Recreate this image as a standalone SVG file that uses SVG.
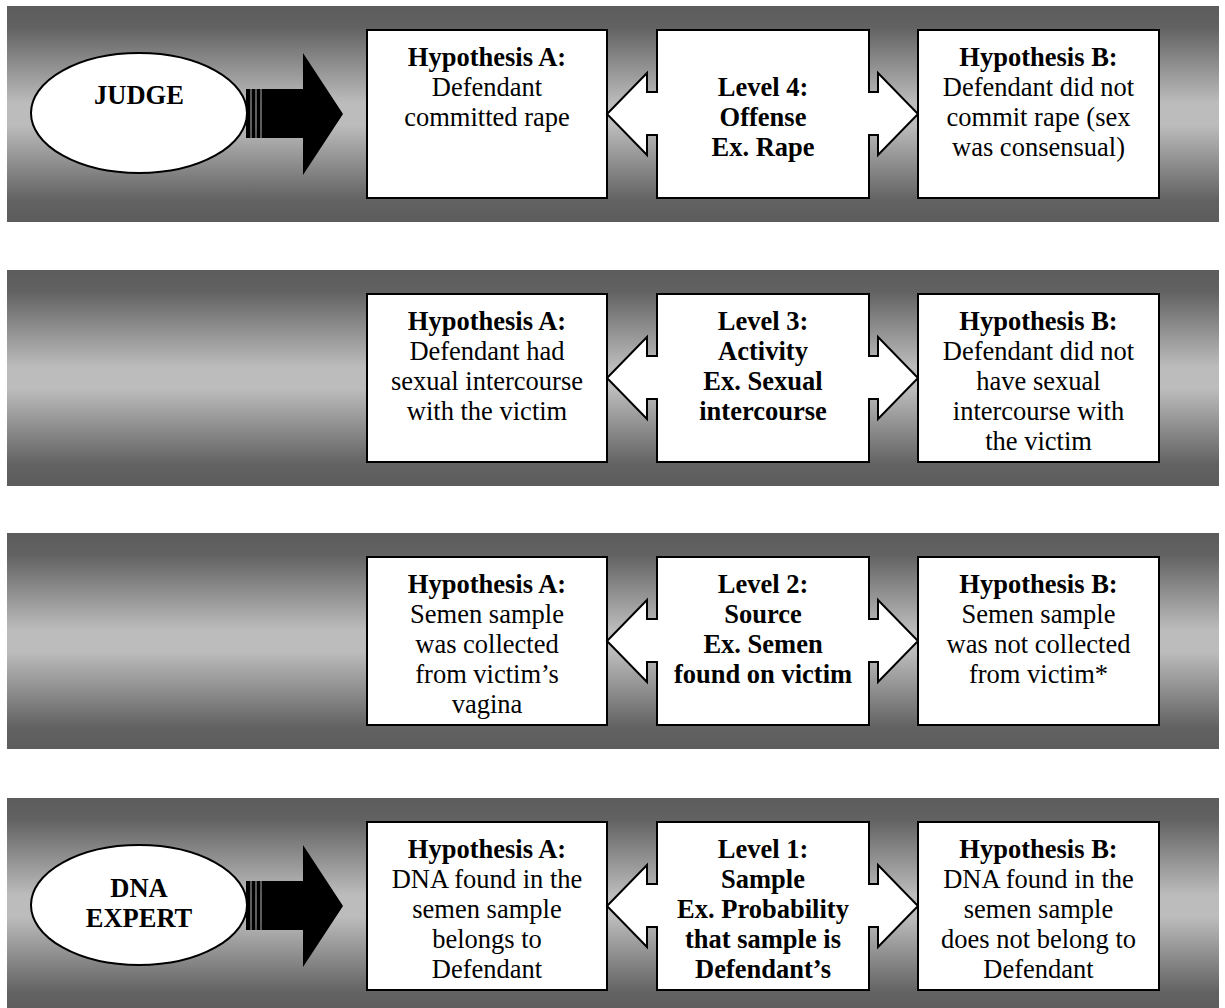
<svg xmlns="http://www.w3.org/2000/svg" width="1225" height="1008" viewBox="0 0 1225 1008">
<defs>
<linearGradient id="bandGrad" x1="0" y1="0" x2="0" y2="1">
<stop offset="0" stop-color="#5c5c5c"/>
<stop offset="0.1" stop-color="#626262"/>
<stop offset="0.45" stop-color="#bcbcbc"/>
<stop offset="0.55" stop-color="#bcbcbc"/>
<stop offset="0.9" stop-color="#626262"/>
<stop offset="1" stop-color="#5c5c5c"/>
</linearGradient>
<path id="levelShape" d="M657,24 H869 V86 H878 V67 L918,108 L878,149 V129 H869 V192 H657 V129 H647 V149 L607,108 L647,67 V86 H657 Z"/>
<g id="stripedArrow">
<rect x="246" y="83" width="4.5" height="49"/>
<rect x="251.5" y="83" width="4" height="49"/>
<rect x="256.5" y="83" width="4" height="49"/>
<path d="M261.5,83 H303 V47 L343,108 L303,169 V132 H261.5 Z"/>
</g>
</defs>
<style>
.band{fill:url(#bandGrad);}
.box{fill:#ffffff;stroke:#000000;stroke-width:2;}
.lvl{fill:#ffffff;stroke:#000000;stroke-width:2;stroke-linejoin:miter;}
.ell{fill:#ffffff;stroke:#000000;stroke-width:2;}
text{font-family:"Liberation Serif","Times New Roman",serif;font-size:26.5px;fill:#000000;text-anchor:middle;}
.b{font-weight:bold;}
</style>
<rect width="1225" height="1008" fill="#ffffff"/>

<!-- Bands -->
<rect class="band" x="7" y="6" width="1212" height="216"/>
<rect class="band" x="7" y="270" width="1212" height="216"/>
<rect class="band" x="7" y="533" width="1212" height="216"/>
<rect class="band" x="7" y="798" width="1212" height="216"/>

<!-- Connectors -->
<g id="connectors" fill="#000000">
<use href="#stripedArrow" transform="translate(0,6)"/>
<use href="#stripedArrow" transform="translate(0,798)"/>
</g>

<!-- Band 1 -->
<g id="judge">
<ellipse class="ell" cx="139" cy="113" rx="108" ry="60"/>
<text class="b" x="139" y="104">JUDGE</text>
</g>
<g id="l4-hypA">
<rect class="box" x="367" y="30" width="240" height="168"/>
<text x="487" y="66"><tspan class="b">Hypothesis A:</tspan><tspan x="487" dy="30">Defendant</tspan><tspan x="487" dy="30">committed rape</tspan></text>
</g>
<g id="level4" transform="translate(0,6)">
<use href="#levelShape" class="lvl"/>
<text class="b" x="763" y="90"><tspan x="763">Level 4:</tspan><tspan x="763" dy="30">Offense</tspan><tspan x="763" dy="30">Ex. Rape</tspan></text>
</g>
<g id="l4-hypB">
<rect class="box" x="918" y="30" width="241" height="168"/>
<text x="1038.5" y="66"><tspan class="b">Hypothesis B:</tspan><tspan x="1038.5" dy="30">Defendant did not</tspan><tspan x="1038.5" dy="30">commit rape (sex</tspan><tspan x="1038.5" dy="30">was consensual)</tspan></text>
</g>

<!-- Band 2 -->
<g id="l3-hypA">
<rect class="box" x="367" y="294" width="240" height="168"/>
<text x="487" y="330"><tspan class="b">Hypothesis A:</tspan><tspan x="487" dy="30">Defendant had</tspan><tspan x="487" dy="30">sexual intercourse</tspan><tspan x="487" dy="30">with the victim</tspan></text>
</g>
<g id="level3" transform="translate(0,270)">
<use href="#levelShape" class="lvl"/>
<text class="b" x="763" y="60"><tspan x="763">Level 3:</tspan><tspan x="763" dy="30">Activity</tspan><tspan x="763" dy="30">Ex. Sexual</tspan><tspan x="763" dy="30">intercourse</tspan></text>
</g>
<g id="l3-hypB">
<rect class="box" x="918" y="294" width="241" height="168"/>
<text x="1038.5" y="330"><tspan class="b">Hypothesis B:</tspan><tspan x="1038.5" dy="30">Defendant did not</tspan><tspan x="1038.5" dy="30">have sexual</tspan><tspan x="1038.5" dy="30">intercourse with</tspan><tspan x="1038.5" dy="30">the victim</tspan></text>
</g>

<!-- Band 3 -->
<g id="l2-hypA">
<rect class="box" x="367" y="557" width="240" height="168"/>
<text x="487" y="593"><tspan class="b">Hypothesis A:</tspan><tspan x="487" dy="30">Semen sample</tspan><tspan x="487" dy="30">was collected</tspan><tspan x="487" dy="30">from victim’s</tspan><tspan x="487" dy="30">vagina</tspan></text>
</g>
<g id="level2" transform="translate(0,533)">
<use href="#levelShape" class="lvl"/>
<text class="b" x="763" y="60"><tspan x="763">Level 2:</tspan><tspan x="763" dy="30">Source</tspan><tspan x="763" dy="30">Ex. Semen</tspan><tspan x="763" dy="30">found on victim</tspan></text>
</g>
<g id="l2-hypB">
<rect class="box" x="918" y="557" width="241" height="168"/>
<text x="1038.5" y="593"><tspan class="b">Hypothesis B:</tspan><tspan x="1038.5" dy="30">Semen sample</tspan><tspan x="1038.5" dy="30">was not collected</tspan><tspan x="1038.5" dy="30">from victim*</tspan></text>
</g>

<!-- Band 4 -->
<g id="dna-expert">
<ellipse class="ell" cx="139" cy="905" rx="108" ry="60"/>
<text class="b" x="139" y="897"><tspan x="139">DNA</tspan><tspan x="139" dy="30">EXPERT</tspan></text>
</g>
<g id="l1-hypA">
<rect class="box" x="367" y="822" width="240" height="168"/>
<text x="487" y="858"><tspan class="b">Hypothesis A:</tspan><tspan x="487" dy="30">DNA found in the</tspan><tspan x="487" dy="30">semen sample</tspan><tspan x="487" dy="30">belongs to</tspan><tspan x="487" dy="30">Defendant</tspan></text>
</g>
<g id="level1" transform="translate(0,798)">
<use href="#levelShape" class="lvl"/>
<text class="b" x="763" y="60"><tspan x="763">Level 1:</tspan><tspan x="763" dy="30">Sample</tspan><tspan x="763" dy="30">Ex. Probability</tspan><tspan x="763" dy="30">that sample is</tspan><tspan x="763" dy="30">Defendant’s</tspan></text>
</g>
<g id="l1-hypB">
<rect class="box" x="918" y="822" width="241" height="168"/>
<text x="1038.5" y="858"><tspan class="b">Hypothesis B:</tspan><tspan x="1038.5" dy="30">DNA found in the</tspan><tspan x="1038.5" dy="30">semen sample</tspan><tspan x="1038.5" dy="30">does not belong to</tspan><tspan x="1038.5" dy="30">Defendant</tspan></text>
</g>
</svg>
